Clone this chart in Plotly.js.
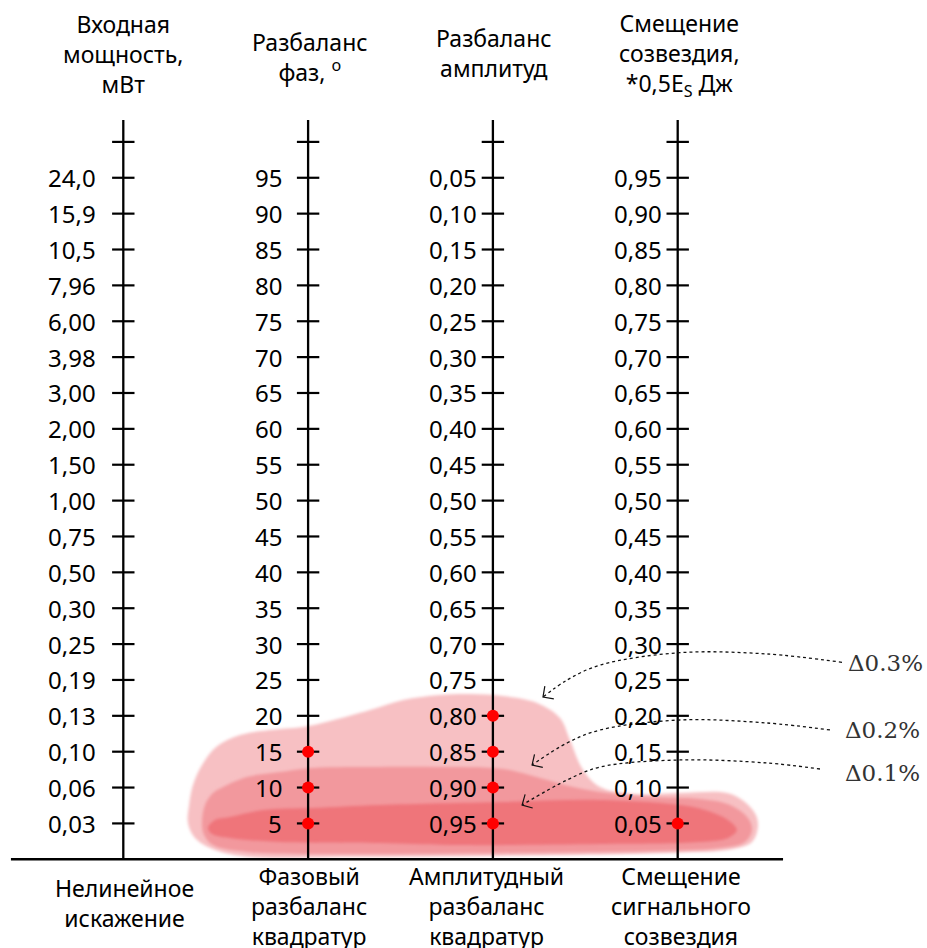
<!DOCTYPE html>
<html><head><meta charset="utf-8">
<script src="https://cdn.plot.ly/plotly-3.0.1.min.js"></script>
<style>html,body{margin:0;padding:0;background:#fff}#chart{width:927px;height:948px}</style>
</head><body><div id="chart"></div>
<script>
// ---------- scale labels (listed bottom -> top; index+1 = level on the scale) ----------
const powerLabels = ['0,03','0,06','0,10','0,13','0,19','0,25','0,30','0,50','0,75','1,00','1,50','2,00','3,00','3,98','6,00','7,96','10,5','15,9','24,0'];
const phaseLabels = ['5','10','15','20','25','30','35','40','45','50','55','60','65','70','75','80','85','90','95'];
const ampLabels   = ['0,95','0,90','0,85','0,80','0,75','0,70','0,65','0,60','0,55','0,50','0,45','0,40','0,35','0,30','0,25','0,20','0,15','0,10','0,05'];
const constLabels = ['0,05','0,10','0,15','0,20','0,25','0,30','0,35','0,40','0,45','0,50','0,55','0,60','0,65','0,70','0,75','0,80','0,85','0,90','0,95'];

const headerTitles = ['Входная<br>мощность,<br>мВт', 'Разбаланс<br>фаз, <sup>o</sup>', 'Разбаланс<br>амплитуд', 'Смещение<br>созвездия,<br>*0,5E<sub>S</sub> Дж'];
const footerTitles = ['Нелинейное<br>искажение', 'Фазовый<br>разбаланс<br>квадратур', 'Амплитудный<br>разбаланс<br>квадратур', 'Смещение<br>сигнального<br>созвездия'];

// marked (red) values on each scale
const powerMarked = [];
const phaseMarked = ['5','10','15'];
const ampMarked   = ['0,95','0,90','0,85','0,80'];
const constMarked = ['0,05'];

// ---------- highlighted zones (x = scale index, y = scale level) ----------
const zone03X = [0.350,0.356,0.377,0.426,0.502,0.632,0.794,0.972,1.119,1.335,1.514,1.714,1.876,2.055,2.239,2.363,2.417,2.488,2.580,2.758,3.013,3.267,3.364,3.423,3.434,3.402,3.299,2.942,2.038,1.227,0.686,0.496,0.388];
const zone03Y = [1.012,1.514,2.072,2.630,3.132,3.465,3.605,3.688,3.856,4.162,4.441,4.580,4.608,4.553,4.358,3.940,3.327,2.490,2.016,1.821,1.848,1.848,1.597,1.235,0.900,0.482,0.287,0.176,0.092,0.064,0.064,0.259,0.594];
const zone02X = [0.426,0.442,0.485,0.540,0.669,0.848,1.027,1.389,1.697,2.055,2.255,2.433,2.617,2.850,3.121,3.283,3.380,3.402,3.364,3.229,2.850,2.038,1.227,0.669,0.485,0.437];
const zone02Y = [1.012,1.514,1.848,2.016,2.295,2.434,2.546,2.574,2.574,2.518,2.267,2.016,1.848,1.737,1.681,1.514,1.151,0.817,0.482,0.315,0.231,0.175,0.147,0.204,0.398,0.677];
const zone01X = [0.458,0.496,0.577,0.756,1.027,1.389,2.055,2.580,3.013,3.148,3.272,3.320,3.272,3.121,2.580,1.768,1.389,0.848,0.577,0.480];
const zone01Y = [0.873,1.096,1.180,1.374,1.430,1.514,1.597,1.653,1.514,1.374,1.096,0.817,0.594,0.482,0.426,0.398,0.454,0.482,0.594,0.705];

// callout curves (from label to zone)
const zoneNames = ['Δ0.3%','Δ0.2%','Δ0.1%'];
const call03X = [3.889,3.483,3.012,2.580,2.401,2.271];
const call03Y = [5.492,5.724,5.760,5.415,4.997,4.523];
const call02X = [3.824,3.483,3.012,2.580,2.401,2.212];
const call02Y = [3.605,3.800,3.884,3.605,3.243,2.629];
const call01X = [3.770,3.483,3.012,2.580,2.401,2.158];
const call01Y = [2.517,2.685,2.769,2.573,2.211,1.514];

// ---------- layout constants ----------
const W = 927, H = 948;
const xRange = [-0.6672, 4.3490];
const yRange = [-2.473, 23.956];
const pxX = W / (xRange[1] - xRange[0]);
const pxY = H / (yRange[1] - yRange[0]);
const axisTop = 20.61;          // top end of each vertical scale
const topTick = 20;             // unlabeled top tick
const baseLeft = -0.608, baseRight = 3.570;
const labelShift = [-25, -24, -14, -14];
const FONT = '"Noto Sans", "Open Sans", sans-serif';
const zoneColors = ['#f7c0c3', '#f2989d', '#ef747a'];

const scales = [powerLabels, phaseLabels, ampLabels, constLabels];
const marked = [powerMarked, phaseMarked, ampMarked, constMarked];

const traces = [];
const annotations = [];

// zones (back)
[[zone03X, zone03Y], [zone02X, zone02Y], [zone01X, zone01Y]].forEach((z, i) => {
  traces.push({
    x: z[0].concat([z[0][0]]), y: z[1].concat([z[1][0]]),
    mode: 'lines', fill: 'toself', fillcolor: zoneColors[i],
    line: {width: 0, shape: 'spline', smoothing: 1, color: zoneColors[i]},
    hoverinfo: 'skip'
  });
});

// vertical scales + ticks + labels
scales.forEach((labels, c) => {
  traces.push({x: [c, c], y: [0, axisTop], mode: 'lines', line: {color: '#000', width: 2.3}, hoverinfo: 'skip'});
  const tx = [], ty = [];
  labels.forEach((l, i) => { tx.push(c); ty.push(i + 1); });
  tx.push(c); ty.push(topTick);
  traces.push({x: tx, y: ty, mode: 'markers', marker: {symbol: 'line-ew', size: 16, line: {width: 2.2, color: '#000'}}, hoverinfo: 'skip'});
  labels.forEach((l, i) => {
    annotations.push({x: c, y: i + 1, xref: 'x', yref: 'y', text: l, showarrow: false,
      xanchor: 'right', yanchor: 'middle', xshift: labelShift[c],
      font: {family: FONT, size: 24, color: '#000'}});
  });
});

// baseline
traces.push({x: [baseLeft, baseRight], y: [0, 0], mode: 'lines', line: {color: '#000', width: 2.5}, hoverinfo: 'skip'});

// red marked points
const mx = [], my = [];
marked.forEach((arr, c) => arr.forEach(v => { mx.push(c); my.push(scales[c].indexOf(v) + 1); }));
traces.push({x: mx, y: my, mode: 'markers', marker: {color: '#ff0000', size: 12, line: {width: 0}}, hoverinfo: 'skip'});

// callout curves with open arrowheads
[[call03X, call03Y], [call02X, call02Y], [call01X, call01Y]].forEach((cv) => {
  const xs = cv[0], ys = cv[1];
  traces.push({x: xs, y: ys, mode: 'lines', line: {color: '#111', width: 1.3, dash: 'dot', shape: 'spline', smoothing: 1}, hoverinfo: 'skip'});
  const n = xs.length;
  const dx = (xs[n-1] - xs[n-2]) * pxX, dy = (ys[n-1] - ys[n-2]) * pxY;
  const back = Math.atan2(dy, dx) + Math.PI;
  const L = 11, a = Math.PI / 4;
  traces.push({
    x: [xs[n-1] + L * Math.cos(back + a) / pxX, xs[n-1], xs[n-1] + L * Math.cos(back - a) / pxX],
    y: [ys[n-1] + L * Math.sin(back + a) / pxY, ys[n-1], ys[n-1] + L * Math.sin(back - a) / pxY],
    mode: 'lines', line: {color: '#111', width: 1.2}, hoverinfo: 'skip'});
});

// callout labels
const calloutPos = [[4.127, 5.473], [4.108, 3.605], [4.108, 2.406]];
zoneNames.forEach((t, i) => {
  annotations.push({x: calloutPos[i][0], y: calloutPos[i][1], xref: 'x', yref: 'y', text: t, showarrow: false,
    xanchor: 'center', yanchor: 'middle', font: {family: '"DejaVu Serif", "Liberation Serif", serif', size: 23, color: '#333'}});
});

// headers & footers
const headerY = [22.437, 22.367, 22.492, 22.437];
const headerShift = [0, 2, 1, 2];
headerTitles.forEach((t, c) => {
  annotations.push({x: c, y: headerY[c], xref: 'x', yref: 'y', text: t, showarrow: false,
    xanchor: 'center', yanchor: 'middle', xshift: headerShift[c], align: 'center',
    font: {family: FONT, size: 23, color: '#000'}});
});
const footerY = [-1.218, -1.29, -1.29, -1.29];
const footerShift = [1, 1, -6, 3];
footerTitles.forEach((t, c) => {
  annotations.push({x: c, y: footerY[c], xref: 'x', yref: 'y', text: t, showarrow: false,
    xanchor: 'center', yanchor: 'middle', xshift: footerShift[c], align: 'center',
    font: {family: FONT, size: 23, color: '#000'}});
});

const layout = {
  width: W, height: H, autosize: false,
  margin: {l: 0, r: 0, t: 0, b: 0, pad: 0},
  paper_bgcolor: '#fff', plot_bgcolor: '#fff',
  showlegend: false,
  xaxis: {range: xRange, visible: false, fixedrange: true},
  yaxis: {range: yRange, visible: false, fixedrange: true},
  annotations: annotations
};
Plotly.newPlot('chart', traces, layout, {displayModeBar: false, staticPlot: true}).then(gd => {
  // soften zone edges like the reference's feathered highlight
  const svg = gd.querySelector('svg.main-svg');
  const ns = 'http://www.w3.org/2000/svg';
  let defs = svg.querySelector('defs');
  if (!defs) { defs = document.createElementNS(ns, 'defs'); svg.insertBefore(defs, svg.firstChild); }
  const f = document.createElementNS(ns, 'filter');
  f.setAttribute('id', 'zoneSoft');
  f.setAttribute('x', '-10%'); f.setAttribute('y', '-30%');
  f.setAttribute('width', '120%'); f.setAttribute('height', '160%');
  const b = document.createElementNS(ns, 'feGaussianBlur');
  b.setAttribute('stdDeviation', '1.8');
  f.appendChild(b); defs.appendChild(f);
  const tr = gd.querySelectorAll('.scatterlayer .trace');
  for (let i = 0; i < 3 && i < tr.length; i++) {
    tr[i].querySelectorAll('path.js-fill').forEach(p => p.setAttribute('filter', 'url(#zoneSoft)'));
  }
});
</script></body></html>
